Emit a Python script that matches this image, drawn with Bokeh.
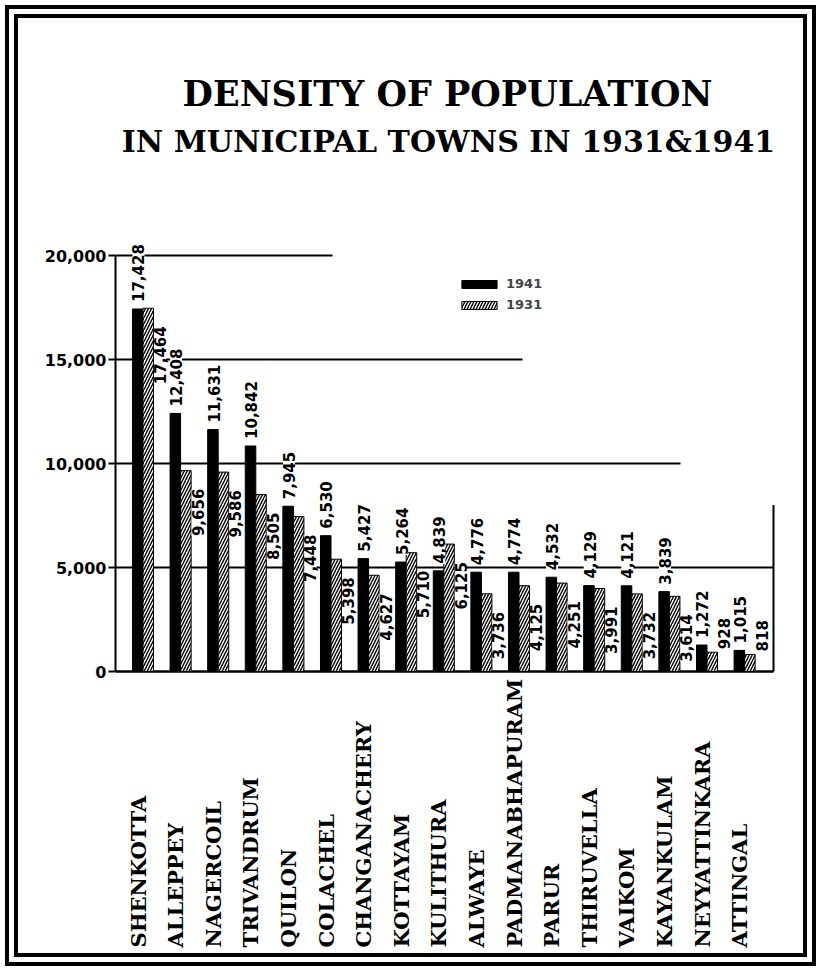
import numpy as np
from math import pi
from bokeh.plotting import figure
from bokeh.models import (ColumnDataSource, Range1d, FixedTicker, NumeralTickFormatter,
                          LabelSet, Label, Legend, LegendItem)
from bokeh.core.properties import value
from bokeh.embed import file_html
from bokeh.resources import INLINE

# ---------------- data ----------------
towns = ["SHENKOTTA", "ALLEPPEY", "NAGERCOIL", "TRIVANDRUM", "QUILON", "COLACHEL",
         "CHANGANACHERY", "KOTTAYAM", "KULITHURA", "ALWAYE", "PADMANABHAPURAM", "PARUR",
         "THIRUVELLA", "VAIKOM", "KAYANKULAM", "NEYYATTINKARA", "ATTINGAL"]
density_1941 = [17428, 12408, 11631, 10842, 7945, 6530, 5427, 5264, 4839, 4776,
                4774, 4532, 4129, 4121, 3839, 1272, 1015]
density_1931 = [17464, 9656, 9586, 8505, 7448, 5398, 4627, 5710, 6125, 3736,
                4125, 4251, 3991, 3732, 3614, 928, 818]
y_ticks = [0, 5000, 10000, 15000, 20000]
series_names = ["1941", "1931"]
title_lines = ["DENSITY OF POPULATION", "IN MUNICIPAL TOWNS IN 1931&1941"]

# ---------------- layout (page pixels) ----------------
ORIGIN = 18                 # page offset of the figure (inside the double border)
W, H = 821 - 2 * ORIGIN, 971 - 2 * ORIGIN
AXIS_PX = 115               # page x of the y axis
ZERO_PX = 671               # page y of density 0
PX_PER_UNIT = 416 / 20000   # vertical pixels per density unit
PAIR0_PX = 142.5            # page x of first town pair centre
STEP = 37.6                 # pixels between towns

FRAME_LEFT = AXIS_PX - ORIGIN
x_start = (AXIS_PX - PAIR0_PX) / STEP
x_end = (ORIGIN + W - PAIR0_PX) / STEP
y_start = (ZERO_PX - (ORIGIN + H)) / PX_PER_UNIT
y_end = (ZERO_PX - ORIGIN) / PX_PER_UNIT

def px_to_y(page_y):
    return (ZERO_PX - page_y) / PX_PER_UNIT

def px_to_x(page_x):
    return (page_x - PAIR0_PX) / STEP

def sx(page_x):   # frame-relative screen x
    return page_x - AXIS_PX

def sy(page_y):   # frame-relative screen y (from frame bottom)
    return ORIGIN + H - page_y

grid_ends_px = {5000: 773, 10000: 680, 15000: 522, 20000: 332}
right_edge_x = px_to_x(773)
right_edge_top = 8000
label_bottom_y = px_to_y(947)

p = figure(width=W, height=H, x_range=Range1d(x_start, x_end), y_range=Range1d(y_start, y_end),
           output_backend="svg", toolbar_location=None, x_axis_location=None,
           min_border_left=FRAME_LEFT, min_border_right=0, min_border_top=0, min_border_bottom=0,
           outline_line_color=None, background_fill_color="white", border_fill_color="white")
p.grid.visible = False
p.styles = {"margin": f"{ORIGIN}px", "outline": "13px double black", "outline-offset": "0px"}

yax = p.yaxis[0]
yax.ticker = FixedTicker(ticks=y_ticks)
yax.formatter = NumeralTickFormatter(format="0,0")
yax.bounds = (0, 20000)
yax.axis_line_width = 2
yax.axis_line_color = "black"
yax.major_tick_line_width = 2
yax.major_tick_out = 7
yax.major_tick_in = 0
yax.minor_tick_out = 0
yax.minor_tick_in = 0
yax.major_label_standoff = 2
yax.major_label_text_font = "DejaVu Sans"
yax.major_label_text_font_size = "16px"
yax.major_label_text_font_style = "bold"
yax.major_label_text_color = "black"

# horizontal rules
g_y = [t for t in y_ticks if t > 0]
p.segment(x0=[x_start] * len(g_y), y0=g_y, x1=[px_to_x(grid_ends_px[t]) for t in g_y], y1=g_y,
          line_color="black", line_width=2)
p.segment(x0=[x_start], y0=[0], x1=[right_edge_x], y1=[0], line_color="black", line_width=2.5)
p.segment(x0=[right_edge_x], y0=[0], x1=[right_edge_x], y1=[right_edge_top],
          line_color="black", line_width=2)

# bars
idx = np.arange(len(towns))
src = ColumnDataSource(dict(
    x41=idx - 0.14, x31=idx + 0.14, d41=density_1941, d31=density_1931,
    xl41=idx - 0.12,
    t41=[f"{v:,}" for v in density_1941]))

r41 = p.vbar(x="x41", top="d41", bottom=0, width=0.28, source=src,
             fill_color="black", line_color="black", line_width=1)
r31 = p.vbar(x="x31", top="d31", bottom=0, width=0.28, source=src,
             fill_color="white", line_color="black", line_width=1,
             hatch_pattern="/", hatch_color="black", hatch_scale=6, hatch_weight=1.4)

lab_kw = dict(angle=pi / 2, text_baseline="middle", text_font=value("DejaVu Sans"),
              text_font_size="15px", text_font_style="bold", text_color="black",
              background_fill_color="white")
p.add_layout(LabelSet(x="xl41", y="d41", text="t41", source=src, text_align="left",
                      y_offset=7, **lab_kw))

small = [i for i, v in enumerate(density_1931) if v < 2000]
big = [i for i, v in enumerate(density_1931) if v >= 2000]
src31b = ColumnDataSource(dict(x=[idx[i] + 0.45 for i in big], y=[density_1931[i] for i in big],
                               t=[f"{density_1931[i]:,}" for i in big]))
src31s = ColumnDataSource(dict(x=[idx[i] + 0.45 for i in small], y=[density_1931[i] for i in small],
                               t=[f"{density_1931[i]:,}" for i in small]))
p.add_layout(LabelSet(x="x", y="y", text="t", source=src31b, text_align="right",
                      y_offset=-18, **lab_kw))
p.add_layout(LabelSet(x="x", y="y", text="t", source=src31s, text_align="left",
                      y_offset=3, **lab_kw))

# town names
p.text(x=idx - 0.13, y=[label_bottom_y] * len(towns), text=towns, angle=pi / 2,
       text_align="left", text_baseline="middle", text_font=value("DejaVu Serif"),
       text_font_style="bold", text_font_size="21px", text_color="black")

# title
p.add_layout(Label(x=sx(447), y=sy(93), x_units="screen", y_units="screen",
                   text=title_lines[0], text_align="center", text_baseline="middle",
                   text_font="DejaVu Serif", text_font_style="bold",
                   text_font_size="35px", text_color="black"))
p.add_layout(Label(x=sx(448), y=sy(141), x_units="screen", y_units="screen",
                   text=title_lines[1], text_align="center", text_baseline="middle",
                   text_font="DejaVu Serif", text_font_style="bold",
                   text_font_size="30px", text_color="black"))

# legend
legend = Legend(items=[LegendItem(label=series_names[0], renderers=[r41]),
                       LegendItem(label=series_names[1], renderers=[r31])],
                location=(sx(457), sy(312)), orientation="vertical",
                glyph_width=44, glyph_height=10, label_height=12, spacing=6, padding=0,
                margin=0, border_line_color=None, background_fill_alpha=0,
                label_text_font="DejaVu Sans", label_text_font_size="13px",
                label_text_font_style="bold", label_standoff=5)
p.add_layout(legend)

open("out.html", "w").write(file_html(p, INLINE))
